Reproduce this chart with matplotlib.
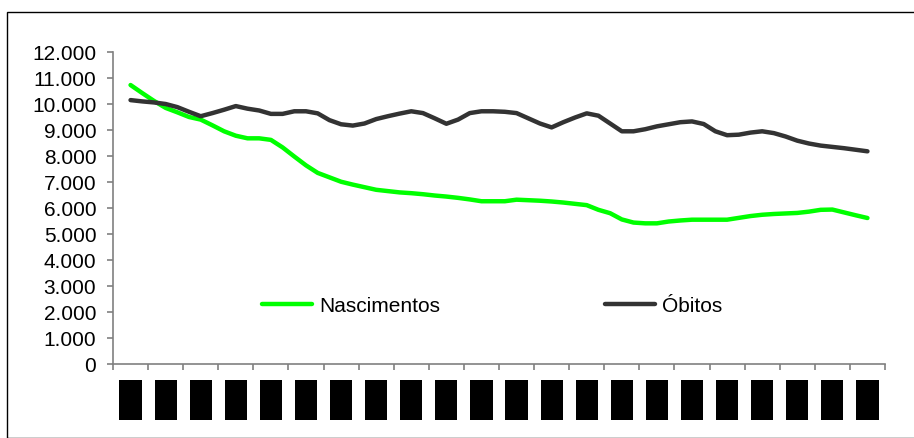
import numpy as np
import matplotlib
matplotlib.use("Agg")
import matplotlib.pyplot as plt
from matplotlib.patches import Rectangle
from matplotlib.ticker import FuncFormatter, MultipleLocator

plt.rcParams['font.family'] = ['Liberation Sans', 'DejaVu Sans']

# 22 categories (labels blacked out), three readings per category
n_cat = 22
categorias = ['' for _ in range(n_cat)]

nascimentos = [
    10730, 10420, 10120, 9850, 9680, 9500, 9400, 9180, 8950, 8780,
    8680, 8680, 8620, 8330, 7980, 7640, 7350, 7180, 7010, 6900,
    6800, 6700, 6650, 6600, 6570, 6530, 6480, 6440, 6390, 6330,
    6260, 6260, 6260, 6320, 6300, 6280, 6250, 6210, 6160, 6110,
    5930, 5800, 5560, 5440, 5410, 5410, 5480, 5520, 5550, 5550,
    5550, 5550, 5620, 5690, 5740, 5770, 5790, 5810, 5860, 5930,
    5940, 5830, 5720, 5615,
]
obitos = [
    10150, 10100, 10060, 10000, 9880, 9700, 9530, 9650, 9780, 9920,
    9820, 9750, 9620, 9620, 9720, 9720, 9640, 9380, 9220, 9170,
    9250, 9420, 9530, 9630, 9720, 9650, 9450, 9240, 9400, 9650,
    9720, 9720, 9700, 9650, 9450, 9250, 9100, 9300, 9480, 9640,
    9550, 9250, 8950, 8950, 9030, 9140, 9220, 9300, 9330, 9230,
    8950, 8800, 8820, 8900, 8950, 8880, 8750, 8590, 8480, 8400,
    8350, 8300, 8240, 8180,
]

x = np.arange(len(nascimentos)) / 3.0

fig = plt.figure(figsize=(9.14, 4.39), dpi=100)
ax = fig.add_axes([113 / 914, 1 - 365 / 439, 772 / 914, 312 / 439])

# outer chart frame
fig.patches.append(Rectangle((7 / 914, 0), 1.0, 1 - 13 / 439, transform=fig.transFigure,
                             fill=False, edgecolor='black', linewidth=1.0))

ax.plot(x, nascimentos, color='#00ff00', linewidth=3.2, label='Nascimentos',
        solid_capstyle='round', solid_joinstyle='round')
ax.plot(x, obitos, color='#333333', linewidth=3.2, label='Óbitos',
        solid_capstyle='round', solid_joinstyle='round')

ax.set_xlim(-0.5, n_cat - 0.5)
ax.set_ylim(0, 12000)
ax.yaxis.set_major_locator(MultipleLocator(1000))
ax.yaxis.set_major_formatter(FuncFormatter(lambda v, p: f"{int(v):,}".replace(',', '.')))
ax.set_xticks(np.arange(-0.5, n_cat, 1.0))
ax.set_xticklabels([])

for side in ['top', 'right']:
    ax.spines[side].set_visible(False)
for side in ['left', 'bottom']:
    ax.spines[side].set_color('#808080')
    ax.spines[side].set_linewidth(1.2)
ax.tick_params(axis='both', direction='out', length=4, width=1.2, color='#808080')
ax.tick_params(axis='y', labelsize=15, pad=8, labelcolor='black')

# category labels drawn as black blocks
for i, _ in enumerate(categorias):
    ax.add_patch(Rectangle((i - 0.315, -0.179), 0.63, 0.128,
                           transform=ax.get_xaxis_transform(), clip_on=False,
                           facecolor='black', edgecolor='none'))

ax.legend(loc='center', bbox_to_anchor=(0.491, 0.186), ncol=2, frameon=False,
          fontsize=15, handlelength=2.4, handletextpad=0.34, columnspacing=7.9)

fig.savefig('out.png', dpi=100)
